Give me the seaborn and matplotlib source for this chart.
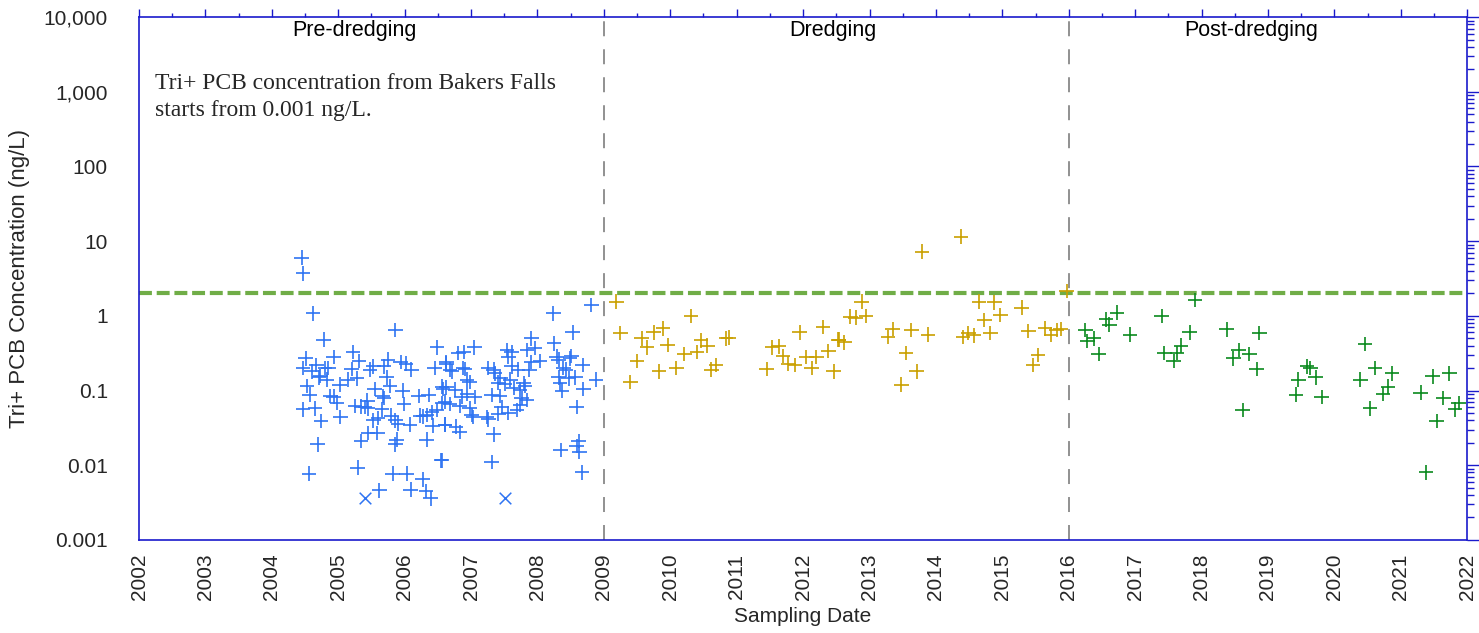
import numpy as np
import pandas as pd
import matplotlib
matplotlib.use("Agg")
import matplotlib.pyplot as plt
import matplotlib.ticker as mticker
import seaborn as sns

# ── Data (decimal year, Tri+ PCB ng/L) ──
pre_year = [
    2004.45, 2004.47, 2004.62, 2005.86, 2004.78, 2006.49, 2005.22, 2004.93, 2004.51, 2005.31,
    2005.75, 2005.94, 2006.02, 2004.67, 2004.85, 2004.80, 2004.47, 2005.20, 2005.53, 2005.48,
    2005.69, 2006.10, 2006.45, 2006.63, 2004.60, 2004.73, 2004.71, 2004.83, 2005.28, 2005.15,
    2005.73, 2005.02, 2004.53, 2005.78, 2005.55, 2005.97, 2006.58, 2004.57, 2004.88, 2004.93,
    2005.67, 2005.69, 2006.21, 2006.36, 2004.98, 2005.44, 2005.99, 2006.61, 2005.25, 2005.35,
    2005.40, 2005.45, 2004.47, 2004.65, 2005.66, 2006.23, 2006.28, 2006.33, 2006.41, 2006.48,
    2005.03, 2005.80, 2005.86, 2004.74, 2005.53, 2005.60, 2005.90, 2006.08, 2006.42, 2006.61,
    2005.45, 2005.59, 2005.34, 2005.88, 2005.86, 2006.33, 2004.69, 2006.55, 2005.29, 2004.56,
    2005.82, 2006.03, 2006.27, 2005.62, 2006.09, 2006.32, 2006.39,
    2008.81, 2008.24, 2008.53, 2007.91, 2008.25, 2007.05, 2006.81, 2006.89, 2007.54, 2007.61,
    2007.84, 2007.96, 2008.29, 2008.32, 2008.51, 2008.49, 2008.04, 2007.91, 2007.56, 2008.68,
    2006.63, 2006.68, 2006.71, 2006.88, 2006.91, 2007.26, 2007.34, 2007.36, 2007.61, 2007.71,
    2007.88, 2008.39, 2008.43, 2006.94, 2006.98, 2007.44, 2007.41, 2007.51, 2007.59, 2007.79,
    2007.81, 2008.32, 2008.47, 2008.57, 2008.34, 2008.88, 2008.69, 2008.37, 2006.56, 2006.63,
    2006.76, 2007.64, 2007.74, 2006.86, 2006.94, 2007.06, 2007.31, 2007.43, 2007.76, 2007.84,
    2007.74, 2007.69, 2006.56, 2006.68, 2006.83, 2006.98, 2007.01, 2007.03, 2007.24, 2007.26,
    2007.41, 2007.46, 2007.56, 2008.59, 2006.61, 2006.77, 2006.83, 2007.34, 2008.35, 2008.62,
    2008.59, 2008.63, 2006.56, 2007.31, 2008.67,
]
pre_conc = [
    6.0, 3.7, 1.08, 0.65, 0.48, 0.38, 0.33, 0.28, 0.27, 0.25,
    0.26, 0.24, 0.23, 0.22, 0.20, 0.20, 0.20, 0.195, 0.21, 0.19,
    0.21, 0.19, 0.20, 0.23, 0.18, 0.157, 0.15, 0.14, 0.146, 0.14,
    0.15, 0.12, 0.115, 0.115, 0.105, 0.10, 0.105, 0.088, 0.085, 0.083,
    0.085, 0.08, 0.085, 0.087, 0.069, 0.073, 0.066, 0.071, 0.062, 0.061,
    0.06, 0.058, 0.056, 0.058, 0.056, 0.046, 0.045, 0.047, 0.051, 0.055,
    0.044, 0.046, 0.04, 0.039, 0.04, 0.043, 0.036, 0.035, 0.034, 0.035,
    0.027, 0.027, 0.021, 0.022, 0.019, 0.022, 0.019, 0.0116, 0.0093, 0.0077,
    0.0077, 0.0077, 0.0065, 0.0046, 0.0047, 0.0045, 0.0036,
    1.4, 1.08, 0.6, 0.5, 0.43, 0.38, 0.32, 0.33, 0.35, 0.33,
    0.35, 0.37, 0.285, 0.26, 0.29, 0.27, 0.25, 0.24, 0.285, 0.22,
    0.24, 0.19, 0.18, 0.20, 0.195, 0.20, 0.19, 0.17, 0.21, 0.19,
    0.19, 0.20, 0.19, 0.14, 0.13, 0.147, 0.128, 0.123, 0.14, 0.125,
    0.115, 0.15, 0.146, 0.15, 0.125, 0.14, 0.105, 0.10, 0.113, 0.11,
    0.103, 0.108, 0.103, 0.083, 0.09, 0.082, 0.087, 0.085, 0.079, 0.075,
    0.064, 0.055, 0.068, 0.066, 0.062, 0.058, 0.047, 0.044, 0.044, 0.041,
    0.049, 0.06, 0.05, 0.06, 0.035, 0.033, 0.028, 0.026, 0.016, 0.021,
    0.018, 0.015, 0.0116, 0.011, 0.008,
]
nd_year = [2005.40, 2007.51]
nd_conc = [0.0036, 0.0036]

dredge_year = [
    2009.19, 2010.31, 2009.25, 2011.95, 2012.30, 2009.75, 2009.89, 2009.57, 2009.65, 2009.96,
    2010.46, 2010.56, 2010.84, 2010.88, 2009.50, 2010.21, 2010.40, 2009.40, 2009.83, 2010.09,
    2010.62, 2010.69, 2011.45, 2011.53, 2011.63, 2011.70, 2011.78, 2011.88, 2012.05, 2012.20,
    2012.13, 2012.38, 2012.46, 2012.53, 2012.54, 2012.62, 2012.88, 2012.71, 2012.79, 2012.95,
    2013.28, 2013.35, 2013.63, 2013.88, 2013.55, 2013.71, 2013.48, 2013.79, 2014.38, 2014.41,
    2014.49, 2014.57, 2014.82, 2014.73, 2014.97, 2014.65, 2014.88, 2015.29, 2015.39, 2015.64,
    2015.73, 2015.82, 2015.88, 2015.54, 2015.46, 2015.97,
]
dredge_conc = [
    1.55, 1.0, 0.59, 0.6, 0.71, 0.6, 0.68, 0.5, 0.38, 0.41,
    0.47, 0.4, 0.5, 0.51, 0.25, 0.31, 0.33, 0.13, 0.18, 0.2,
    0.19, 0.22, 0.195, 0.38, 0.39, 0.29, 0.23, 0.22, 0.28, 0.28,
    0.2, 0.34, 0.18, 0.48, 0.48, 0.44, 1.55, 0.98, 0.95, 1.0,
    0.52, 0.67, 0.65, 0.56, 0.32, 0.18, 0.12, 7.25, 11.5, 0.52,
    0.59, 0.55, 0.59, 0.88, 1.03, 1.55, 1.52, 1.29, 0.63, 0.68,
    0.56, 0.65, 0.67, 0.3, 0.22, 2.15,
]

post_year = [
    2017.90, 2016.73, 2016.56, 2016.61, 2017.40, 2016.25, 2016.28, 2016.38, 2016.92, 2016.45,
    2017.82, 2017.44, 2017.63, 2017.69, 2017.58, 2018.38, 2018.87, 2018.48, 2018.56, 2018.72,
    2018.83, 2018.62, 2019.59, 2019.64, 2019.46, 2019.72, 2019.42, 2019.81, 2020.46, 2020.61,
    2020.39, 2020.87, 2020.81, 2020.73, 2020.54, 2021.30, 2021.48, 2021.73, 2021.64, 2021.87,
    2021.82, 2021.54, 2021.38,
]
post_conc = [
    1.64, 1.1, 0.9, 0.76, 1.0, 0.65, 0.46, 0.5, 0.56, 0.31,
    0.6, 0.32, 0.32, 0.4, 0.25, 0.66, 0.59, 0.27, 0.35, 0.31,
    0.195, 0.055, 0.21, 0.2, 0.14, 0.15, 0.088, 0.082, 0.42, 0.2,
    0.14, 0.17, 0.113, 0.09, 0.058, 0.094, 0.155, 0.17, 0.079, 0.068,
    0.056, 0.039, 0.008,
]

periods = ["Pre-dredging", "Dredging", "Post-dredging"]
period_colors = ["#2f74f2", "#c9a000", "#0a8a1e"]
boundaries = [2009, 2016]
criterion = 2.0

sns.set_style("white")
plt.rcParams['font.family'] = ['Liberation Sans', 'DejaVu Sans']

df = pd.DataFrame({
    "year": pre_year + dredge_year + post_year,
    "conc": pre_conc + dredge_conc + post_conc,
    "period": (["Pre-dredging"] * len(pre_year) + ["Dredging"] * len(dredge_year)
               + ["Post-dredging"] * len(post_year)),
})
nd = pd.DataFrame({"year": nd_year, "conc": nd_conc})

fig = plt.figure(figsize=(14.79, 6.33), dpi=100)
ax = fig.add_axes([0.094, 0.147, 0.898, 0.826])

axis_blue = "#1a1acc"

# threshold and period boundaries first so markers sit on top
ax.axhline(criterion, color="#70ad47", lw=3.0, ls=(0, (3.1, 1.15)), zorder=2)
for b in boundaries:
    ax.axvline(b, color="#888888", lw=1.3, ls=(0, (8.3, 7.2)), zorder=2)

sns.scatterplot(data=df, x="year", y="conc", hue="period", hue_order=periods,
                palette=period_colors, marker="+", s=110, linewidth=1.2,
                legend=False, ax=ax, zorder=3)
sns.scatterplot(data=nd, x="year", y="conc", color=period_colors[0], marker="x",
                s=70, linewidth=1.1, legend=False, ax=ax, zorder=3)

ax.set_yscale("log")
ax.set_ylim(0.001, 10000)
ax.set_xlim(2002, 2022)

ax.xaxis.set_major_locator(mticker.MultipleLocator(1))
ax.xaxis.set_minor_locator(mticker.MultipleLocator(0.5))
ax.xaxis.set_major_formatter(mticker.FuncFormatter(lambda v, p: f"{int(round(v))}"))
ax.yaxis.set_major_locator(mticker.LogLocator(base=10, numticks=20))
ax.yaxis.set_minor_locator(mticker.LogLocator(base=10, subs=np.arange(2, 10), numticks=20))
ax.yaxis.set_minor_formatter(mticker.NullFormatter())


def fmt_conc(v, pos):
    if v >= 1:
        return f"{v:,.0f}"
    return f"{v:g}"


ax.yaxis.set_major_formatter(mticker.FuncFormatter(fmt_conc))

for side in ["left", "right", "top", "bottom"]:
    ax.spines[side].set_color(axis_blue)
    ax.spines[side].set_linewidth(1.2)

ax.tick_params(axis="both", which="both", direction="out", color=axis_blue,
               top=True, right=True, labeltop=False, labelright=False)
ax.tick_params(axis="y", which="major", length=9.5, width=1.0, labelsize=15, pad=13)
ax.tick_params(axis="y", which="minor", length=5, width=1.0)
ax.tick_params(axis="x", which="major", length=6, width=1.0, labelsize=15,
               labelrotation=90, pad=4)
ax.tick_params(axis="x", which="minor", length=3, width=1.0)

ax.set_xlabel("Sampling Date", fontsize=15, labelpad=5)
ax.set_ylabel("Tri+ PCB Concentration (ng/L)", fontsize=16, labelpad=10)

# period labels
label_x = [2005.24, 2012.45, 2018.75]
for name, lx in zip(periods, label_x):
    ax.text(lx, 0.975, name, transform=ax.get_xaxis_transform(),
            ha="center", va="center", fontsize=15.5, color="black")

ax.text(0.012, 0.893,
        "Tri+ PCB concentration from Bakers Falls\nstarts from 0.001 ng/L.",
        transform=ax.transAxes, ha="left", va="top", fontsize=17,
        family=["Liberation Serif", "DejaVu Serif"], linespacing=1.4)

fig.savefig("out.png", dpi=100)
